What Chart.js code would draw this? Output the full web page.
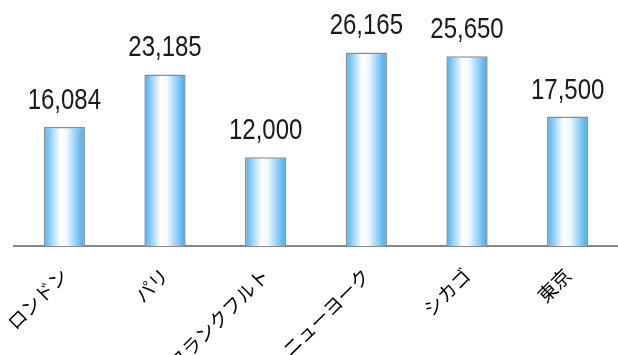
<!DOCTYPE html>
<html>
<head>
<meta charset="utf-8">
<script src="https://cdn.jsdelivr.net/npm/chart.js@4.4.0/dist/chart.umd.min.js"></script>
<style>
  html, body { margin: 0; padding: 0; background: #fff; }
  #wrap { width: 618px; height: 355px; }
</style>
</head>
<body>
<div id="wrap"><canvas id="chart"></canvas></div>
<script>
// cities and their values
const cities = ['ロンドン', 'パリ', 'フランクフルト', 'ニューヨーク', 'シカゴ', '東京'];
const values = [16084, 23185, 12000, 26165, 25650, 17500];

const BAR_FRAC = 0.41;

// horizontal blue-white-blue fill for each bar
function barFill(context) {
  const chart = context.chart;
  const xScale = chart.scales.x;
  if (!xScale || !chart.chartArea) return '#7cc4f2';
  const cx = xScale.getPixelForValue(context.dataIndex);
  const w = xScale.width / cities.length * BAR_FRAC;
  const g = chart.ctx.createLinearGradient(cx - w / 2, 0, cx + w / 2, 0);
  g.addColorStop(0, '#45aef0');
  g.addColorStop(0.18, '#9cd3f7');
  g.addColorStop(0.4, '#ffffff');
  g.addColorStop(0.55, '#f2f9ff');
  g.addColorStop(0.8, '#8ccbf5');
  g.addColorStop(1, '#3ba7ee');
  return g;
}

// value text above each bar, slightly condensed
const valueLabels = {
  id: 'valueLabels',
  afterDatasetsDraw(chart) {
    const ctx = chart.ctx;
    const meta = chart.getDatasetMeta(0);
    ctx.save();
    ctx.fillStyle = '#1a1a1a';
    ctx.font = '30px "Liberation Sans", Arial, sans-serif';
    ctx.textAlign = 'center';
    ctx.textBaseline = 'alphabetic';
    meta.data.forEach((bar, i) => {
      ctx.save();
      ctx.translate(bar.x, bar.y - 18);
      ctx.scale(0.8, 1);
      ctx.fillText(values[i].toLocaleString('en-US'), 0, 0);
      ctx.restore();
    });
    ctx.restore();
  }
};

new Chart(document.getElementById('chart'), {
  type: 'bar',
  data: {
    labels: cities,
    datasets: [{
      data: values,
      backgroundColor: barFill,
      borderColor: '#8c8c8c',
      borderWidth: 1.5,
      categoryPercentage: 1,
      barPercentage: BAR_FRAC
    }]
  },
  options: {
    responsive: true,
    maintainAspectRatio: false,
    animation: false,
    layout: { padding: { left: 14, right: 0, top: 24, bottom: 0 } },
    plugins: {
      legend: { display: false },
      tooltip: { enabled: false }
    },
    scales: {
      x: {
        grid: { display: false, drawTicks: false },
        border: { display: true, color: '#888', width: 2 },
        ticks: {
          color: '#000',
          font: { family: '"Noto Sans CJK JP", sans-serif', size: 19 },
          minRotation: 45,
          maxRotation: 45,
          padding: 18
        },
        afterFit(scale) {
          scale.height = 109;
          // keep the plot area fixed even when rotated labels overhang
          scale.paddingLeft = 0;
          scale.paddingRight = 0;
        }
      },
      y: {
        display: false,
        min: 0,
        max: 30000,
        afterFit(scale) { scale.width = 0; }
      }
    }
  },
  plugins: [valueLabels]
});
</script>
</body>
</html>
